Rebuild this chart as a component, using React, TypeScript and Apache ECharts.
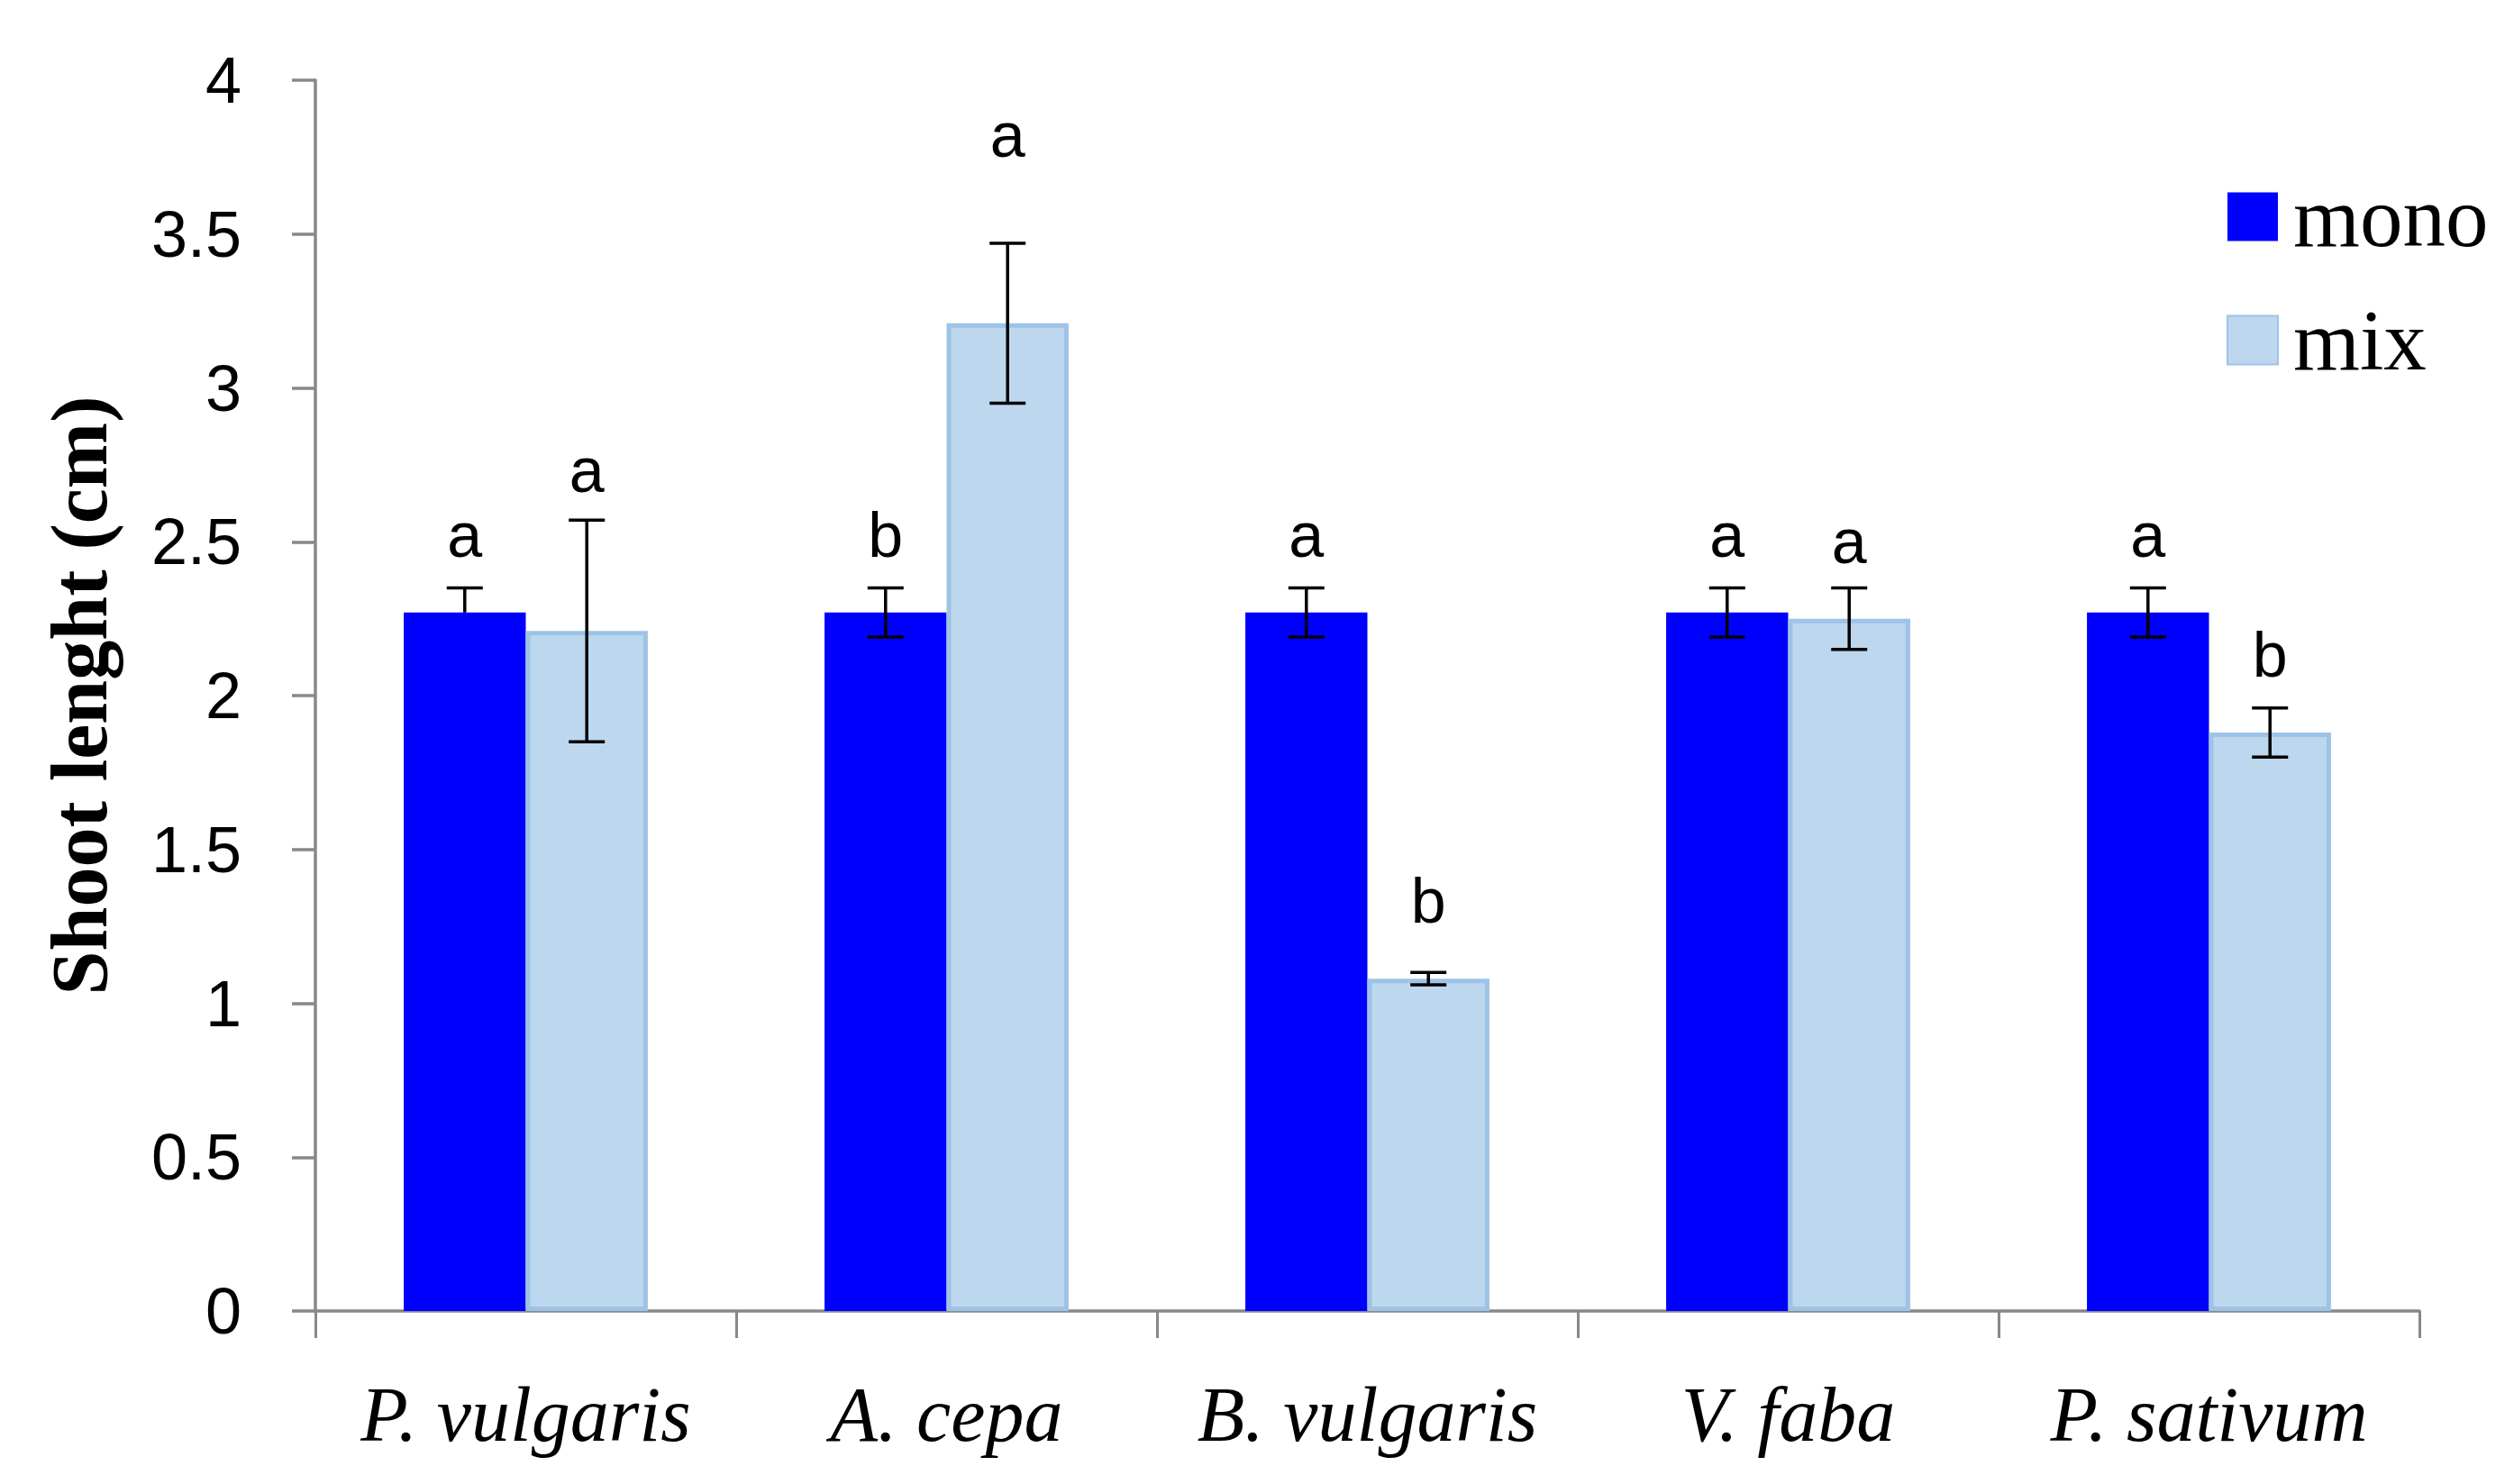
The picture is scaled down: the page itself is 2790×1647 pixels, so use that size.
import { useEffect, useRef } from 'react';
import * as echarts from 'echarts';

const species = ['P. vulgaris', 'A. cepa', 'B. vulgaris', 'V. faba', 'P. sativum'];
const monoValues = [2.27, 2.27, 2.27, 2.27, 2.27];
const monoErrPlus = [0.08, 0.08, 0.08, 0.08, 0.08];
const monoErrMinus = [0, 0.08, 0.08, 0.08, 0.08];
const mixValues = [2.21, 3.21, 1.08, 2.25, 1.88];
const mixErrPlus = [0.36, 0.26, 0.02, 0.1, 0.08];
const mixErrMinus = [0.36, 0.26, 0.02, 0.1, 0.08];
// letters above the bars and the value of their baseline
const monoLetters = ['a', 'b', 'a', 'a', 'a'];
const monoLetterY = [2.45, 2.45, 2.45, 2.45, 2.45];
const mixLetters = ['a', 'a', 'b', 'a', 'b'];
const mixLetterY = [2.66, 3.75, 1.26, 2.43, 2.06];

const BAR_RATIO = 0.29;
const LETTER_SIZE = 70;
const AXIS_GRAY = '#888888';

function errorSeries(
  name: string,
  side: number,
  values: number[],
  plus: number[],
  minus: number[],
  letters: string[],
  letterY: number[],
) {
  return {
    name,
    type: 'custom',
    clip: false,
    z: 10,
    silent: true,
    data: values.map((v, i) => [i, v, plus[i], minus[i], letterY[i]]),
    renderItem: (params: any, api: any) => {
      const idx = api.value(0);
      const v = api.value(1);
      const band = api.size([1, 0])[0];
      const dx = (side * band * BAR_RATIO) / 2;
      const top = api.coord([idx, v + api.value(2)]);
      const bot = api.coord([idx, v - api.value(3)]);
      const lab = api.coord([idx, api.value(4)]);
      const x = top[0] + dx;
      const cap = 20;
      const style = { stroke: '#000', lineWidth: 3.5 };
      const children: any[] = [
        { type: 'line', shape: { x1: x, y1: top[1], x2: x, y2: bot[1] }, style },
        { type: 'line', shape: { x1: x - cap, y1: top[1], x2: x + cap, y2: top[1] }, style },
      ];
      if (api.value(3) > 0) {
        children.push({ type: 'line', shape: { x1: x - cap, y1: bot[1], x2: x + cap, y2: bot[1] }, style });
      }
      children.push({
        type: 'text',
        x,
        y: lab[1] - 0.35 * LETTER_SIZE,
        style: {
          text: letters[params.dataIndex],
          fill: '#000',
          font: `${LETTER_SIZE}px "Liberation Sans", sans-serif`,
          align: 'center',
          verticalAlign: 'middle',
        },
      });
      return { type: 'group', children };
    },
  };
}

export default function App() {
  const chartRef = useRef<HTMLDivElement>(null);

  useEffect(() => {
    if (!chartRef.current) return;
    const chart = echarts.init(chartRef.current, undefined, { renderer: 'svg' });

    const option: any = {
      animation: false,
      backgroundColor: '#fff',
      grid: { left: 350, right: 105, top: 89, bottom: 192 },
      legend: {
        orient: 'vertical',
        left: 2471,
        top: 193,
        padding: 0,
        itemWidth: 56,
        itemHeight: 54,
        itemGap: 42,
        icon: 'rect',
        data: ['mono', 'mix'],
        textStyle: {
          fontFamily: '"Liberation Serif", serif',
          fontSize: 95,
          lineHeight: 54,
          color: '#000',
          padding: [0, 0, 0, 12],
        },
      },
      xAxis: {
        type: 'category',
        data: species,
        axisLine: { lineStyle: { color: AXIS_GRAY, width: 3.5 } },
        axisTick: { show: true, interval: 0, length: 30, lineStyle: { color: AXIS_GRAY, width: 3 } },
        axisLabel: {
          interval: 0,
          margin: 72,
          fontFamily: '"Liberation Serif", serif',
          fontStyle: 'italic',
          fontSize: 86,
          color: '#000',
        },
      },
      yAxis: {
        type: 'value',
        min: 0,
        max: 4,
        interval: 0.5,
        name: 'Shoot lenght (cm)',
        nameLocation: 'middle',
        nameGap: 218,
        nameTextStyle: {
          fontFamily: '"Liberation Serif", serif',
          fontWeight: 'bold',
          fontSize: 88,
          color: '#000',
        },
        axisLine: { show: true, lineStyle: { color: AXIS_GRAY, width: 3.5 } },
        axisTick: { show: true, length: 26, lineStyle: { color: AXIS_GRAY, width: 3.5 } },
        splitLine: { show: false },
        axisLabel: {
          margin: 82,
          fontFamily: '"Liberation Sans", sans-serif',
          fontSize: 72,
          color: '#000',
        },
      },
      series: [
        {
          name: 'mono',
          type: 'bar',
          barWidth: `${BAR_RATIO * 100}%`,
          barGap: '0%',
          data: monoValues,
          itemStyle: { color: '#0000FF' },
        },
        {
          name: 'mix',
          type: 'bar',
          barWidth: `${BAR_RATIO * 100}%`,
          barGap: '0%',
          data: mixValues,
          itemStyle: { color: '#BDD7EE', borderColor: '#9DC3E6', borderWidth: 5 },
        },
        errorSeries('monoErr', -1, monoValues, monoErrPlus, monoErrMinus, monoLetters, monoLetterY),
        errorSeries('mixErr', 1, mixValues, mixErrPlus, mixErrMinus, mixLetters, mixLetterY),
      ],
    };

    chart.setOption(option);
    const handleResize = () => chart.resize();
    window.addEventListener('resize', handleResize);
    return () => {
      window.removeEventListener('resize', handleResize);
      chart.dispose();
    };
  }, []);

  return (
    <div
      ref={chartRef}
      style={{ position: 'fixed', left: 0, top: 0, width: '100vw', height: '100vh' }}
    />
  );
}
